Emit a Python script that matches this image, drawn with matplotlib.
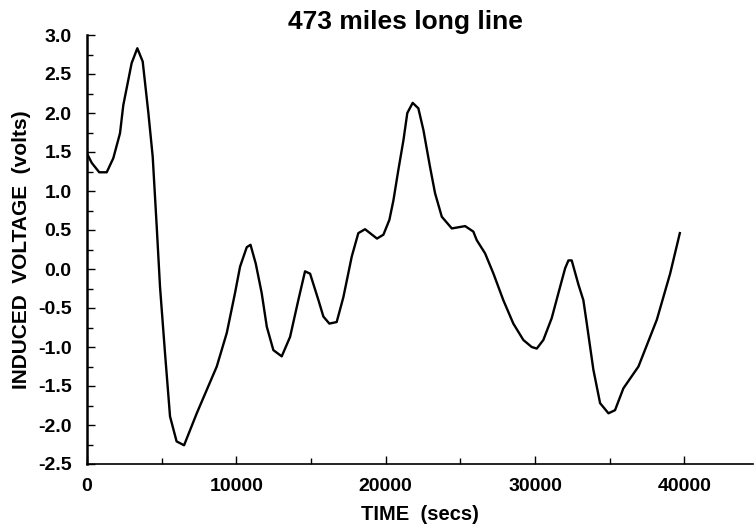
import matplotlib
matplotlib.use("Agg")
import matplotlib.pyplot as plt
from matplotlib.ticker import MultipleLocator

# induced voltage on a 473 mile line
time_s = [0, 320, 820, 1320, 1760, 2210, 2430, 2990, 3370, 3730, 4110, 4400,
          4670, 4890, 5225, 5560, 6000, 6500, 7350, 8690, 9360, 9910, 10250,
          10700, 10950, 11300, 11700, 12040, 12480, 13040, 13600, 14150,
          14600, 14940, 15500, 15830, 16230, 16720, 17170, 17730, 18170,
          18620, 19420, 19850, 20250, 20520, 20850, 21190, 21450, 21810,
          22190, 22530, 22970, 23310, 23760, 24430, 25320, 25870, 26100,
          26660, 27220, 27880, 28550, 29220, 29780, 30120, 30560, 31120,
          31680, 32020, 32240, 32460, 32910, 33240, 33470, 33910, 34360,
          34920, 35360, 35920, 36930, 38160, 39050, 39700]
voltage = [1.48, 1.36, 1.24, 1.24, 1.42, 1.74, 2.10, 2.64, 2.83, 2.66, 2.00, 1.44,
           0.54, -0.23, -1.08, -1.89, -2.21, -2.26, -1.85, -1.25, -0.82, -0.31, 0.03,
           0.28, 0.31, 0.07, -0.31, -0.74, -1.04, -1.12, -0.87, -0.40,
           -0.03, -0.06, -0.40, -0.61, -0.70, -0.68, -0.36, 0.16, 0.46,
           0.51, 0.39, 0.44, 0.63, 0.88, 1.27, 1.65, 2.00, 2.13,
           2.06, 1.78, 1.31, 0.97, 0.67, 0.52, 0.55, 0.48, 0.37,
           0.20, -0.06, -0.40, -0.70, -0.91, -1.00, -1.02, -0.91, -0.63,
           -0.23, 0.01, 0.11, 0.11, -0.20, -0.40, -0.70, -1.29, -1.72,
           -1.85, -1.81, -1.53, -1.25, -0.65, -0.06, 0.46]

plt.rcParams['font.family'] = ['Liberation Sans', 'DejaVu Sans']
plt.rcParams['font.weight'] = 'bold'

W, H = 754, 527
fig = plt.figure(figsize=(W / 100, H / 100), dpi=100)
ax = fig.add_axes([87 / W, (H - 464) / H, (753 - 87) / W, (464 - 35) / H])

ax.plot(time_s, voltage, color='black', lw=1.7)

ax.set_xlim(0, 44600)
ax.set_ylim(-2.5, 3.0)
ax.xaxis.set_major_locator(MultipleLocator(10000))
ax.xaxis.set_minor_locator(MultipleLocator(5000))
ax.yaxis.set_major_locator(MultipleLocator(0.5))
ax.yaxis.set_minor_locator(MultipleLocator(0.25))
ax.yaxis.set_major_formatter(plt.FormatStrFormatter('%.1f'))

for s in ['top', 'right']:
    ax.spines[s].set_visible(False)
ax.spines['left'].set_linewidth(1.8)
ax.spines['bottom'].set_linewidth(1.2)

ax.tick_params(axis='both', which='both', direction='in', labelsize=14,
               width=1)
ax.tick_params(axis='both', which='major', length=6)
ax.tick_params(axis='both', which='minor', length=4)
ax.tick_params(axis='y', which='major', pad=11)
ax.tick_params(axis='x', which='major', pad=10)

ax.set_xlabel('TIME  (secs)', fontsize=14.5, fontweight='bold', labelpad=7)
ax.set_ylabel('INDUCED  VOLTAGE  (volts)', fontsize=15, fontweight='bold',
              labelpad=5)
fig.text(405 / W, 1 - 22 / H, '473 miles long line', ha='center', va='center',
         fontsize=19, fontweight='bold')

fig.savefig('out.png', dpi=100)
